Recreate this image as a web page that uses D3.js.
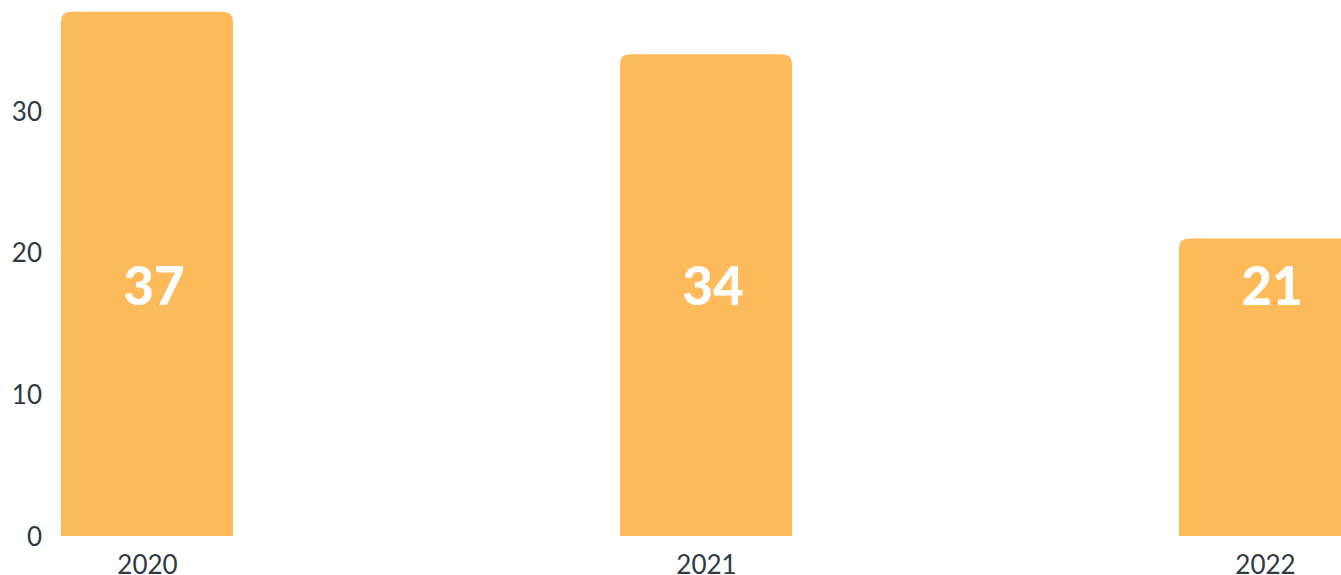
<!DOCTYPE html>
<html>
<head>
<meta charset="utf-8">
<script src="https://cdn.jsdelivr.net/npm/d3@7"></script>
<style>
  html, body { margin: 0; padding: 0; background: #ffffff; overflow: hidden; }
  svg { display: block; }
</style>
</head>
<body>
<svg id="chart" width="1341" height="575"></svg>
<script>
const categories = ["2020", "2021", "2022"];
const values = [37, 34, 21];
const yTicks = [0, 10, 20, 30];

const svg = d3.select("#chart");
const barWidth = 172;
const radius = 10;
const barColor = "#FDBA5A";
const textColor = "#2E3A44";

const x = d3.scalePoint().domain(categories).range([147, 1265]);
const y = d3.scaleLinear().domain([0, 37]).range([536, 11.7]);

// y axis labels
const yAxis = d3.axisLeft(y).tickValues(yTicks).tickSize(0).tickPadding(0);
const gy = svg.append("g").attr("transform", "translate(42,0)").call(yAxis);
gy.select(".domain").remove();
gy.selectAll("text")
  .attr("font-family", "Lato, sans-serif")
  .attr("font-size", 26)
  .attr("fill", textColor)
  .attr("dy", "0.36em");

// bars with rounded top corners
function barPath(cx, v) {
  const x0 = cx - barWidth / 2, x1 = cx + barWidth / 2;
  const yt = y(v), yb = y(0);
  const r = Math.min(radius, (yb - yt));
  return `M${x0},${yb} L${x0},${yt + r} Q${x0},${yt} ${x0 + r},${yt} L${x1 - r},${yt} Q${x1},${yt} ${x1},${yt + r} L${x1},${yb} Z`;
}

const data = categories.map((c, i) => ({ c, v: values[i] }));

svg.append("g").selectAll("path").data(data).join("path")
  .attr("d", d => barPath(x(d.c), d.v))
  .attr("fill", barColor);

// value labels
svg.append("g").selectAll("text").data(data).join("text")
  .attr("x", d => x(d.c) + 7)
  .attr("y", 305)
  .attr("text-anchor", "middle")
  .attr("font-family", "Lato, sans-serif")
  .attr("font-weight", 900)
  .attr("font-size", 53)
  .attr("fill", "#ffffff")
  .text(d => d.v);

// x axis labels
const xAxis = d3.axisBottom(x).tickSize(0).tickPadding(0);
const gx = svg.append("g").attr("transform", "translate(0,536)").call(xAxis);
gx.select(".domain").remove();
gx.selectAll("text")
  .attr("font-family", "Lato, sans-serif")
  .attr("font-size", 26)
  .attr("fill", textColor)
  .attr("y", 37.5)
  .attr("dy", 0);
</script>
</body>
</html>
